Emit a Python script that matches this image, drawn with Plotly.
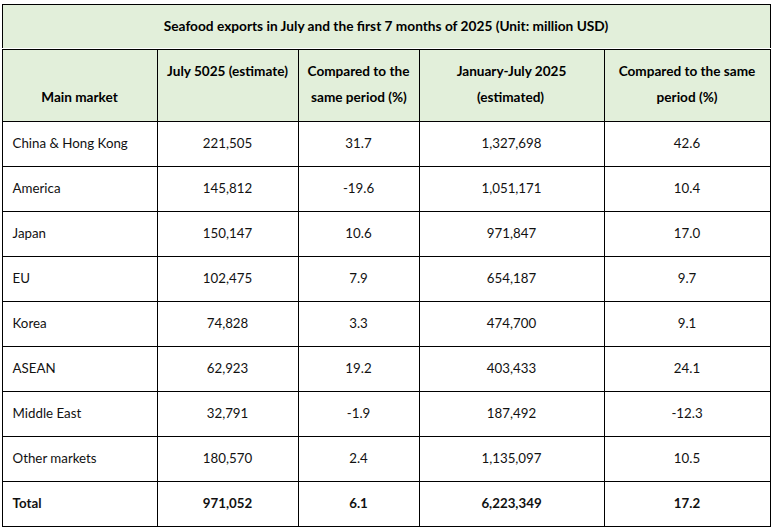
import plotly.graph_objects as go

# table data
title = "Seafood exports in July and the first 7 months of 2025 (Unit: million USD)"
headers = [
    ["", "Main market"],
    ["July 5025 (estimate)", ""],
    ["Compared to the", "same period (%)"],
    ["January-July 2025", "(estimated)"],
    ["Compared to the same", "period (%)"],
]
markets = ["China & Hong Kong", "America", "Japan", "EU", "Korea", "ASEAN",
           "Middle East", "Other markets", "Total"]
july_2025 = [221505, 145812, 150147, 102475, 74828, 62923, 32791, 180570, 971052]
july_change = [31.7, -19.6, 10.6, 7.9, 3.3, 19.2, -1.9, 2.4, 6.1]
jan_jul_2025 = [1327698, 1051171, 971847, 654187, 474700, 403433, 187492, 1135097, 6223349]
jan_jul_change = [42.6, 10.4, 17.0, 9.7, 9.1, 24.1, -12.3, 10.5, 17.2]

# left indent (px) of the second header line, so that it sits centred
# under the first one (plotly keeps the lines of a cell left aligned)
second_line_indent = [0, 0, 9, 27, 46]

W, H = 771, 530
green = "#e2efda"
font = "Lato, 'Open Sans', sans-serif"
NB = "\u00a0"  # big non-breaking space, pushes text down like a vertical pad
NB_EM = 0.275


def span(s, size, bold=False):
    if bold:
        s = "<b>" + s + "</b>"
    return f'<span style="font-size:{size}px">{s}</span>'


def indent(px):
    if px <= 0:
        return ""
    n = max(1, round(px / 3.7))
    return span(NB * n, round(px / (n * NB_EM), 2))


def head(lines, ind):
    first, second = lines
    l1 = span(NB, 19) + span(first if first else NB, 13.6, True) + span(NB, 19)
    l2 = indent(ind) + span(second if second else NB, 13.6, True)
    return l1 + "<br>" + l2


def col(vals, left=False):
    out = []
    for i, v in enumerate(vals):
        t = span(v, 13.3, bold=(i == len(vals) - 1))
        if left:
            t = span(NB, 10) + t + NB
        else:
            t = NB + t + NB
        out.append(t + "<br>")
    return out


col1 = col(markets, left=True)
col2 = col([f"{v:,}" for v in july_2025])
col3 = col([f"{v:.1f}" for v in july_change])
col4 = col([f"{v:,}" for v in jan_jul_2025])
col5 = col([f"{v:.1f}" for v in jan_jul_change])

x0, x1 = 2 / W, 770 / W

fig = go.Figure()

# title row
fig.add_trace(go.Table(
    domain=dict(x=[x0, x1], y=[(H - 49) / H, (H - 4) / H]),
    header=dict(values=[NB + span(title, 13.7, True) + NB + "<br>"], fill_color=green,
                line=dict(color="black", width=1), align="center",
                font=dict(family=font, size=19, color="black"), height=45),
    cells=dict(values=[[]]),
))

# main table
fig.add_trace(go.Table(
    domain=dict(x=[x0, x1], y=[0, (H - 49) / H]),
    columnwidth=[155, 141, 121, 185, 166],
    header=dict(values=[head(h, d) for h, d in zip(headers, second_line_indent)],
                fill_color=green,
                line=dict(color="black", width=1), align="center",
                font=dict(family=font, size=20, color="black"), height=72),
    cells=dict(values=[col1, col2, col3, col4, col5], fill_color="white",
               line=dict(color="black", width=1),
               align=["left", "center", "center", "center", "center"],
               font=dict(family=font, size=19, color="#111111"), height=45),
))

fig.update_layout(width=W, height=H, margin=dict(l=0, r=0, t=0, b=0),
                  paper_bgcolor="white", font=dict(family=font))

fig.write_html("out.html", config={"displayModeBar": False},
               post_script="document.body.style.margin='0';")
